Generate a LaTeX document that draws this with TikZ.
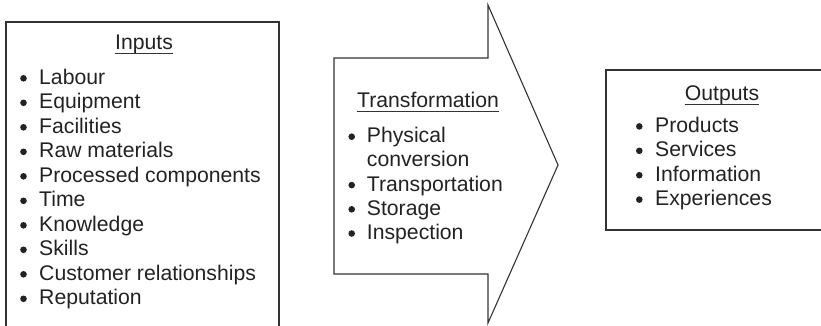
\documentclass[tikz,border=0pt]{standalone}
\usepackage{fontspec}
\setmainfont{Liberation Sans}
\definecolor{ink}{HTML}{222222}
\definecolor{rule}{HTML}{333333}
\begin{document}
\begin{tikzpicture}[x=1pt,y=-1pt,
  frame/.style={draw=rule, line width=1.1pt, line join=miter},
  itemtext/.style={inner sep=0pt, anchor=base west, text=ink,
    font=\fontsize{21.2}{24}\selectfont},
  headtext/.style={itemtext, anchor=base},
  uline/.style={draw=rule, line width=0.9pt},
  bulletdot/.style={circle, fill=ink, inner sep=0pt, minimum size=6.6pt}]
\useasboundingbox (0,0) rectangle (821,325);

% ---- Inputs box (open at the bottom) ----
\draw[frame] (6,330) -- (6,22) -- (279,22) -- (279,330);
\node[headtext] (inhead) at (144,49) {Inputs};
\draw[uline] ([yshift=-4pt]inhead.base west) -- ([yshift=-4pt]inhead.base east);
\foreach \t [count=\i from 0] in {Labour,Equipment,Facilities,Raw materials,
    Processed components,Time,Knowledge,Skills,Customer relationships,Reputation}{
  \node[itemtext] (in\i) at (39,84.3+24.5*\i) {\t};
  \node[bulletdot] (inb\i) at (23.5,78.3+24.5*\i) {};
}

% ---- Transformation arrow ----
\draw[frame] (334,58) -- (488,58) -- (488,5) -- (558,165) -- (488,323)
  -- (488,274) -- (334,274) -- cycle;
\node[headtext] (trhead) at (428,107) {Transformation};
\draw[uline] ([yshift=-4.5pt]trhead.base west) -- ([yshift=-4.5pt]trhead.base east);
\foreach \t/\b [count=\i from 0] in {Physical/1,conversion/0,Transportation/1,
    Storage/1,Inspection/1}{
  \node[itemtext] (tr\i) at (366.7,142.7+24.2*\i) {\t};
  \ifnum\b=1 \node[bulletdot] (trb\i) at (351.7,136.7+24.2*\i) {};\fi
}

% ---- Outputs box (open on the right) ----
\draw[frame] (830,70) -- (606,70) -- (606,230) -- (830,230);
\node[headtext] (outhead) at (722,100) {Outputs};
\draw[uline] ([yshift=-4pt]outhead.base west) -- ([yshift=-4pt]outhead.base east);
\foreach \t [count=\i from 0] in {Products,Services,Information,Experiences}{
  \node[itemtext] (out\i) at (655,132.4+24.4*\i) {\t};
  \node[bulletdot] (outb\i) at (639.3,126.4+24.4*\i) {};
}
\end{tikzpicture}
\end{document}
